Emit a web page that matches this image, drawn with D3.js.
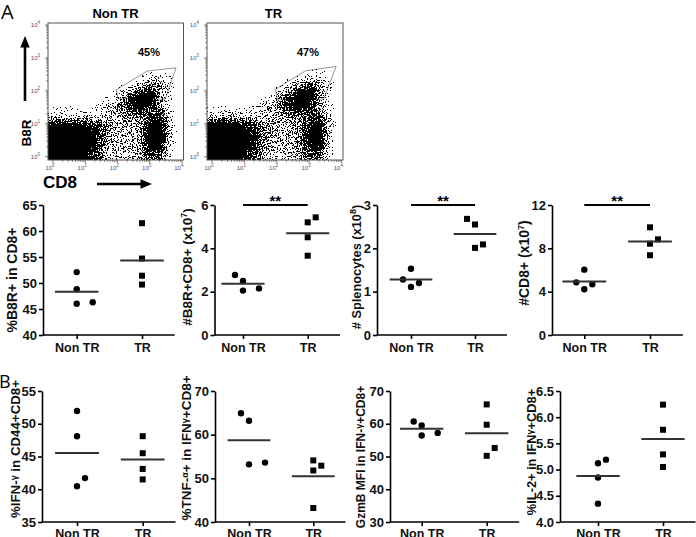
<!DOCTYPE html>
<html><head><meta charset="utf-8">
<script src="https://cdn.jsdelivr.net/npm/d3@7"></script>
<style>body{margin:0;background:#fff}svg{display:block}</style>
</head><body>
<svg id="c" width="696" height="537"></svg>
<script>
// ================= DATA =================
const groups = ["Non TR", "TR"];

// Panel A – scatter dot plots
const b8rPctNonTR = [52.1, 48.8, 46.0, 46.3];
const b8rPctTR    = [61.5, 54.7, 51.4, 49.7];
const b8rPctTicks = [40, 45, 50, 55, 60, 65];

const b8rCountNonTR = [2.77, 2.49, 2.05, 2.15];
const b8rCountTR    = [5.20, 5.43, 4.51, 3.66];
const b8rCountTicks = [0, 2, 4, 6];

const spleenNonTR = [1.53, 1.28, 1.11, 1.20];
const spleenTR    = [2.68, 2.55, 2.01, 2.09];
const spleenTicks = [0, 1, 2, 3];

const cd8NonTR = [6.03, 4.86, 4.68, 4.22];
const cd8TR    = [9.94, 8.83, 8.43, 7.36];
const cd8Ticks = [0, 4, 8, 12];

// Panel B
const ifngNonTR = [51.95, 48.1, 41.7, 40.45];
const ifngTR    = [48.1, 45.5, 43.1, 41.5];
const ifngTicks = [35, 40, 45, 50, 55];

const tnfNonTR = [64.9, 63.2, 53.2, 53.6];
const tnfTR    = [52.9, 54.1, 51.8, 43.2];
const tnfTicks = [40, 50, 60, 70];

const gzmbNonTR = [60.7, 59.5, 56.4, 57.2];
const gzmbTR    = [65.9, 59.7, 52.6, 50.2];
const gzmbTicks = [30, 40, 50, 60, 70];

const il2NonTR = [5.12, 5.19, 4.85, 4.35];
const il2TR    = [6.24, 5.76, 5.29, 5.05];
const il2Ticks = [4.0, 4.5, 5.0, 5.5, 6.0, 6.5];

// Flow cytometry dot plots (CD8 vs B8R), log scale
const flowTicks = [1, 10, 100, 1000, 10000];
const flowBinStartX = -0.15, flowBinStartY = -0.1, flowBinStep = 0.3; // log10 units
// event density per bin, rows from top (high B8R) to bottom, columns low->high CD8 (0-9)
const densityNonTR = [
 [0,0,0,0,0,0,0,0,0,0,0,0,0,0],
 [0.1,0.1,0.1,0.1,0.1,0.1,0.1,0.1,0.1,0.1,0.1,0.1,0.1,0.1],
 [0.2,0.2,0.2,0.2,0.2,0.2,0.2,0.2,0.2,0.2,0.2,0.2,0.2,0.1],
 [0.3,0.3,0.3,0.3,0.3,0.3,0.3,0.3,0.3,0.3,0.3,0.3,0.3,0.2],
 [0.4,0.4,0.4,0.4,0.4,0.4,0.4,0.4,0.4,0.5,0.5,0.6,0.5,0.3],
 [0.5,0.5,0.5,0.5,0.5,0.5,0.5,0.6,0.7,0.9,1.2,2,1.2,0.4],
 [0.6,0.6,0.6,0.6,0.6,0.6,0.7,0.9,1.5,3,5,4,2,0.5],
 [0.7,0.7,0.7,0.7,0.7,0.8,1.2,2.5,5,7.5,8,4,1.5,0.5],
 [0.9,0.9,0.9,0.9,1,1.5,2.5,4.5,6.5,7.5,6,3.5,1.5,0.5],
 [2,2.2,2.2,2,2,2.2,3,3.5,4,4,5,6,2.5,0.5],
 [6.5,7,7,6.5,6,4.5,3.5,3,3,3.5,7,8,3,0.5],
 [8.5,9,9,8.5,7.5,5,3.5,3,3,3.5,7.5,8.5,3,0.5],
 [8.5,9,9,8.5,7,4.5,3,3,3,3.5,7,8,2.5,0.3],
 [7,8,8,7,6,4,2.5,2.5,2.5,3,5,5.5,1.5,0.2]
];
const densityTR = [
 [0,0,0,0,0,0,0,0,0,0,0,0,0,0],
 [0.1,0.1,0.1,0.1,0.1,0.1,0.1,0.1,0.1,0.1,0.1,0.1,0.1,0.1],
 [0.2,0.2,0.2,0.2,0.2,0.2,0.2,0.2,0.2,0.2,0.2,0.2,0.2,0.1],
 [0.3,0.3,0.3,0.3,0.3,0.3,0.3,0.3,0.3,0.3,0.3,0.3,0.3,0.2],
 [0.4,0.4,0.4,0.4,0.4,0.4,0.4,0.4,0.4,0.5,0.6,0.6,0.6,0.3],
 [0.5,0.5,0.5,0.5,0.5,0.5,0.5,0.6,0.8,1,1.5,2.2,1.3,0.4],
 [0.6,0.6,0.6,0.6,0.6,0.6,0.7,1,1.8,3.5,5.5,4,2,0.5],
 [0.7,0.7,0.7,0.7,0.7,0.8,1.3,2.8,5.5,8,8.5,4,1.5,0.5],
 [0.9,0.9,0.9,0.9,1,1.6,2.8,4.5,6.5,8,6.5,3.5,1.5,0.5],
 [2.2,2.4,2.4,2.2,2,2.3,3,3.5,4,4,5,5.5,2.5,0.5],
 [7,7.5,7.5,7,6,4.5,3.5,3,3,3.5,6.5,7.5,3,0.5],
 [8.5,9,9,8.5,7,5,3.5,3,3,3.5,7,8,3,0.5],
 [8.5,9,9,8,6.5,4.5,3,3,3,3.5,6.5,7.5,2.5,0.3],
 [7,8,8,7,5.5,4,2.5,2.5,2.5,3,5,5,1.5,0.2]
];
const gateNonTR = [[91,107],[832,398],[6600,500],[3020,56],[105,60]];
const gateTR    = [[91,112],[776,407],[6900,550],[2820,56],[105,56]];
const gatePct   = ["45%", "47%"];

// ================= DRAW =================
const FONT = '"Liberation Sans", Arial, Helvetica, sans-serif';
const svg = d3.select("#c");
const defs = svg.append("defs");

// ---------- flow plots ----------
function stippleFilter(id, x, y, w, h, seed) {
  const f = defs.append("filter").attr("id", id)
    .attr("filterUnits", "userSpaceOnUse")
    .attr("x", x).attr("y", y).attr("width", w).attr("height", h)
    .attr("color-interpolation-filters", "sRGB");
  f.append("feGaussianBlur").attr("in", "SourceAlpha").attr("stdDeviation", 3.6).attr("result", "b");
  f.append("feTurbulence").attr("type", "fractalNoise").attr("baseFrequency", 0.8)
    .attr("numOctaves", 2).attr("seed", seed).attr("result", "t");
  f.append("feColorMatrix").attr("in", "t").attr("type", "matrix")
    .attr("values", "0 0 0 0 0  0 0 0 0 0  0 0 0 0 0  2.5 0 0 0 -0.75").attr("result", "n");
  f.append("feComposite").attr("in", "b").attr("in2", "n").attr("operator", "arithmetic")
    .attr("k1", 0).attr("k2", 1.6).attr("k3", 1).attr("k4", -0.685).attr("result", "c");
  const ct = f.append("feComponentTransfer").attr("in", "c");
  ct.append("feFuncA").attr("type", "discrete").attr("tableValues", "0 1");
}

function supText(sel, base, sup, size) {
  sel.append("tspan").text(base);
  sel.append("tspan").attr("font-size", size).attr("dy", -3).text(sup);
}

function drawFlow(o) {
  const top = 23, bot = 160;
  const xs = d3.scaleLog().domain([10 ** -0.155, 10 ** 4.05]).range([o.fx, o.fx + o.fw]);
  const ys = d3.scaleLog().domain([10 ** -0.1, 10 ** 4.06]).range([bot, top]);
  const clipId = "clip" + o.id;
  defs.append("clipPath").attr("id", clipId).append("rect")
    .attr("x", o.fx).attr("y", top).attr("width", o.fw).attr("height", bot - top);
  stippleFilter("st" + o.id, o.fx - 14, top - 14, o.fw + 28, bot - top + 28, o.seed);

  // gate
  svg.append("path")
    .attr("d", d3.line().x(d => xs(d[0])).y(d => ys(d[1])).curve(d3.curveLinearClosed)(o.gate))
    .attr("fill", "none").attr("stroke", "#8a8a8a").attr("stroke-width", 0.9);

  // density
  const cells = [];
  const nRows = o.density.length;
  o.density.forEach((row, r) => {
    const j = nRows - 1 - r;
    row.forEach((v, i) => {
      if (v > 0) cells.push({ lx: flowBinStartX + i * flowBinStep, ly: flowBinStartY + j * flowBinStep, v, i, j });
    });
  });
  const dg = svg.append("g").attr("clip-path", `url(#${clipId})`)
    .append("g").attr("filter", `url(#st${o.id})`);
  dg.selectAll("rect").data(cells).join("rect")
    .attr("x", d => xs(10 ** d.lx) - (d.i === 0 ? 12 : 0))
    .attr("width", d => xs(10 ** (d.lx + flowBinStep)) - xs(10 ** d.lx) + (d.i === 0 ? 12 : 0))
    .attr("y", d => ys(10 ** (d.ly + flowBinStep)))
    .attr("height", d => ys(10 ** d.ly) - ys(10 ** (d.ly + flowBinStep)) + (d.j === 0 ? 12 : 0))
    .attr("fill", "#000").attr("fill-opacity", d => Math.min(1, d.v / 9));

  // frame
  svg.append("rect").attr("x", o.fx).attr("y", top).attr("width", o.fw).attr("height", bot - top)
    .attr("fill", "none").attr("stroke", "#555").attr("stroke-width", 1);

  // log ticks
  const minor = [];
  for (let k = 0; k < 4; k++) for (let m = 2; m <= 9; m++) minor.push(m * 10 ** k);
  const tg = svg.append("g").attr("stroke", "#555").attr("stroke-width", 0.8);
  flowTicks.forEach(t => {
    tg.append("line").attr("x1", xs(t)).attr("x2", xs(t)).attr("y1", bot).attr("y2", bot + 3);
    tg.append("line").attr("y1", ys(t)).attr("y2", ys(t)).attr("x1", o.fx).attr("x2", o.fx - 3);
  });
  minor.forEach(t => {
    tg.append("line").attr("x1", xs(t)).attr("x2", xs(t)).attr("y1", bot).attr("y2", bot + 1.8);
    tg.append("line").attr("y1", ys(t)).attr("y2", ys(t)).attr("x1", o.fx).attr("x2", o.fx - 1.8);
  });
  flowTicks.forEach((t, k) => {
    const tx = svg.append("text").attr("x", xs(t) - 3).attr("y", bot + 10)
      .attr("font-family", FONT).attr("font-size", 6).attr("fill", "#555").attr("text-anchor", "middle");
    supText(tx, "10", String(k), 4.5);
    const ty = svg.append("text").attr("x", o.fx - 8).attr("y", ys(t) + 2)
      .attr("font-family", FONT).attr("font-size", 6).attr("fill", "#555").attr("text-anchor", "end");
    supText(ty, "10", String(k), 4.5);
  });

  // title + pct
  svg.append("text").attr("x", o.titleX).attr("y", 18).attr("text-anchor", "middle")
    .attr("font-family", FONT).attr("font-weight", "bold").attr("font-size", 13).text(o.title);
  svg.append("text").attr("x", o.pctX).attr("y", 55.5)
    .attr("font-family", FONT).attr("font-weight", "bold").attr("font-size", 11).text(o.pct);
}

drawFlow({ id: 1, fx: 48, fw: 135.5, density: densityNonTR, gate: gateNonTR, pct: gatePct[0], pctX: 138, title: groups[0], titleX: 115.5, seed: 3 });
drawFlow({ id: 2, fx: 207, fw: 136, density: densityTR, gate: gateTR, pct: gatePct[1], pctX: 297, title: groups[1], titleX: 273.5, seed: 11 });

// axis labels with arrows
svg.append("text").attr("transform", "translate(31,133) rotate(-90)").attr("text-anchor", "middle")
  .attr("font-family", FONT).attr("font-weight", "bold").attr("font-size", 13.5).text("B8R");
svg.append("line").attr("x1", 25).attr("x2", 25).attr("y1", 101).attr("y2", 44).attr("stroke", "#000").attr("stroke-width", 2.6);
svg.append("path").attr("d", "M25,36L20.3,47.5L29.7,47.5Z").attr("fill", "#000");
svg.append("text").attr("x", 43).attr("y", 188)
  .attr("font-family", FONT).attr("font-weight", "bold").attr("font-size", 17).text("CD8");
svg.append("line").attr("x1", 97).attr("x2", 144).attr("y1", 184).attr("y2", 184).attr("stroke", "#000").attr("stroke-width", 2.6);
svg.append("path").attr("d", "M152,184L140.5,179.3L140.5,188.7Z").attr("fill", "#000");

// panel letters
svg.append("text").attr("x", 1).attr("y", 19).attr("font-family", '"Open Sans", "Liberation Sans", sans-serif')
  .attr("font-size", 20).text("A");
svg.append("text").attr("x", -1).attr("y", 388).attr("font-family", '"Open Sans", "Liberation Sans", sans-serif')
  .attr("font-size", 18).text("B");

// ---------- scatter dot plots ----------
function dodge(vals, y) {
  const order = vals.map((v, k) => k).sort((a, b) => vals[a] - vals[b]);
  const placed = [];
  const out = new Array(vals.length);
  let side = 1;
  const STEP = 8, MIN = 8.5;
  const hit = (dx, py) => placed.some(p => Math.hypot(p.dx - dx, p.py - py) < MIN);
  order.forEach(k => {
    const py = y(vals[k]);
    let dx = 0;
    if (hit(0, py)) {
      if (!hit(side * STEP, py)) dx = side * STEP;
      else if (!hit(-side * STEP, py)) dx = -side * STEP;
      else dx = side * 2 * STEP;
      side = -side;
    }
    placed.push({ dx, py });
    out[k] = { v: vals[k], dx, py };
  });
  return out;
}

function drawPanel(p) {
  const y = d3.scaleLinear().domain([p.ticks[0], p.ticks[p.ticks.length - 1]]).range([p.bot, p.top]);
  const x = d3.scalePoint().domain(groups).range([p.x0, p.x1]);
  const step = p.x1 - p.x0;

  const ya = svg.append("g").attr("transform", `translate(${p.axisX},0)`)
    .call(d3.axisLeft(y).tickValues(p.ticks).tickSize(4).tickSizeOuter(0).tickPadding(2).tickFormat(p.fmt));
  const xa = svg.append("g").attr("transform", `translate(0,${p.bot})`)
    .call(d3.axisBottom(x).tickSize(4).tickSizeOuter(0).tickPadding(p.padX));
  xa.select(".domain").attr("d", `M${p.axisX},0H${p.x1 + step / 2}`);
  [ya, xa].forEach(a => {
    a.selectAll("path,line").attr("stroke", "#000").attr("stroke-width", 1.6);
    a.selectAll("text").attr("font-family", FONT).attr("font-weight", "bold").attr("fill", "#111");
  });
  ya.selectAll("text").attr("font-size", 13);
  xa.selectAll("text").attr("font-size", 12.5);

  // points
  const nt = dodge(p.nonTR, y), tr = dodge(p.tr, y);
  svg.append("g").selectAll("circle").data(nt).join("circle")
    .attr("cx", d => x(groups[0]) + d.dx).attr("cy", d => d.py).attr("r", 3.2).attr("fill", "#000");
  svg.append("g").selectAll("rect").data(tr).join("rect")
    .attr("x", d => x(groups[1]) + d.dx - 3).attr("y", d => d.py - 3)
    .attr("width", 6).attr("height", 6).attr("fill", "#000");

  // mean lines
  [[groups[0], p.nonTR], [groups[1], p.tr]].forEach(([g, vals]) => {
    const m = d3.mean(vals);
    svg.append("line").attr("x1", x(g) - step / 3).attr("x2", x(g) + step / 3)
      .attr("y1", y(m)).attr("y2", y(m)).attr("stroke", "#333").attr("stroke-width", 2);
  });

  // significance
  if (p.sig) {
    svg.append("line").attr("x1", x(groups[0])).attr("x2", x(groups[1]))
      .attr("y1", p.top).attr("y2", p.top).attr("stroke", "#000").attr("stroke-width", 2);
    svg.append("text").attr("x", (x(groups[0]) + x(groups[1])) / 2).attr("y", p.top + 1)
      .attr("text-anchor", "middle").attr("font-family", FONT).attr("font-weight", "bold")
      .attr("font-size", 15).text(p.sig);
  }

  // y title
  const t = svg.append("text").attr("transform", `translate(${p.tx},${p.ty}) rotate(-90)`)
    .attr("text-anchor", "middle").attr("font-family", FONT).attr("font-weight", "bold")
    .attr("font-size", p.tfs).attr("fill", "#111");
  let shift = 0;
  p.title.forEach(([s, kind]) => {
    const ts = t.append("tspan").text(s);
    if (kind === "sup") { ts.attr("font-size", 9).attr("dy", -5 - shift); shift = -5; }
    else if (kind === "g") { ts.attr("font-size", 9).attr("dy", -3 - shift); shift = -3; }
    else { if (shift) ts.attr("dy", -shift); shift = 0; }
  });
}

const fmtInt = d3.format("d"), fmt1 = d3.format(".1f");
const rowA = { top: 205, bot: 335, padX: 4 };
const rowB = { top: 391, bot: 522, padX: 3 };

drawPanel({ ...rowA, nonTR: b8rPctNonTR, tr: b8rPctTR, ticks: b8rPctTicks, fmt: fmtInt,
  axisX: 43, x0: 76.7, x1: 142, sig: null, tx: 17, ty: 280, tfs: 14, title: [["%B8R+ in CD8+"]] });
drawPanel({ ...rowA, nonTR: b8rCountNonTR, tr: b8rCountTR, ticks: b8rCountTicks, fmt: fmtInt,
  axisX: 214.5, x0: 243, x1: 307.7, sig: "**", tx: 192, ty: 267, tfs: 13.5,
  title: [["#B8R+CD8+ (x10"], ["7", "sup"], [")"]] });
drawPanel({ ...rowA, nonTR: spleenNonTR, tr: spleenTR, ticks: spleenTicks, fmt: fmtInt,
  axisX: 377, x0: 411, x1: 475, sig: "**", tx: 361, ty: 267, tfs: 12.8,
  title: [["# Splenocytes (x10"], ["8", "sup"], [")"]] });
drawPanel({ ...rowA, nonTR: cd8NonTR, tr: cd8TR, ticks: cd8Ticks, fmt: fmtInt,
  axisX: 552, x0: 584.3, x1: 650, sig: "**", tx: 529, ty: 263, tfs: 14,
  title: [["#CD8+ (x10"], ["7", "sup"], [")"]] });

drawPanel({ ...rowB, nonTR: ifngNonTR, tr: ifngTR, ticks: ifngTicks, fmt: fmtInt,
  axisX: 42, x0: 77, x1: 142.7, sig: null, tx: 20, ty: 449, tfs: 13.3,
  title: [["%IFN-"], ["γ", "g"], [" in CD44+CD8+"]] });
drawPanel({ ...rowB, nonTR: tnfNonTR, tr: tnfTR, ticks: tnfTicks, fmt: fmtInt,
  axisX: 215, x0: 249, x1: 313.3, sig: null, tx: 191, ty: 448, tfs: 13.5,
  title: [["%TNF-"], ["α", "g"], ["+ in IFN"], ["γ", "g"], ["+CD8+"]] });
drawPanel({ ...rowB, nonTR: gzmbNonTR, tr: gzmbTR, ticks: gzmbTicks, fmt: fmtInt,
  axisX: 390, x0: 421.7, x1: 486.7, sig: null, tx: 365, ty: 457, tfs: 12,
  title: [["GzmB MFI in IFN-"], ["γ", "g"], ["+CD8+"]] });
drawPanel({ ...rowB, nonTR: il2NonTR, tr: il2TR, ticks: il2Ticks, fmt: fmt1,
  axisX: 560, x0: 598, x1: 663, sig: null, tx: 536, ty: 452, tfs: 12.8,
  title: [["%IL-2+ in IFN"], ["γ", "g"], ["+CD8+"]] });
</script>
</body></html>
